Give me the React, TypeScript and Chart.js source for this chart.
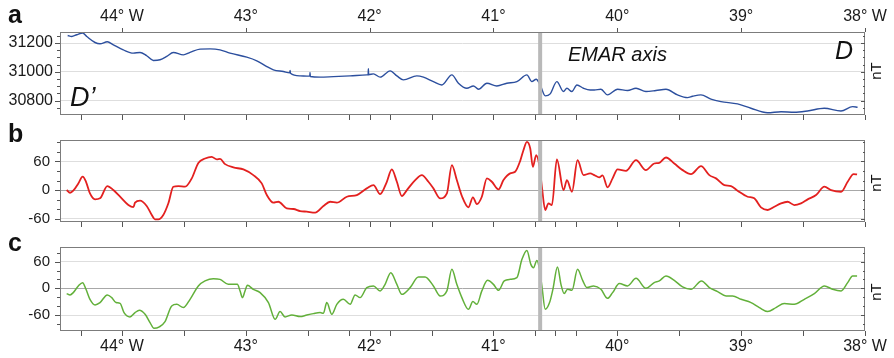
import React, { useEffect, useRef } from "react";
import { Chart, registerables } from "chart.js";
Chart.register(...registerables);

// ---- axis definitions ----
const lonMin = -44.5;
const lonMax = -38;
const lonTicks = [-44, -43, -42, -41, -40, -39, -38];
const lonMinorTicks = [-44.333, -43.5, -42.5, -42.167, -41.833, -41.5, -40.667, -40.5, -40.333, -39.5, -38.5];
const emarLon = -40.623;

const aYTicks = [30800, 31000, 31200];
const aYMinor = [30750, 30850, 30900, 30950, 31050, 31100, 31150, 31250];
const bYTicks = [-60, 0, 60];
const bYMinor = [-40, -20, 20, 40, 80, 100];
const cYTicks = [-60, 0, 60];
const cYMinor = [-80, -40, -20, 20, 40, 80];

// ---- panel a : total field (nT) ----
const aLon = [
  -44.438, -44.405, -44.365, -44.317, -44.284, -44.217, -44.177, -44.118, -44.069, -43.989,
  -43.908, -43.854, -43.8, -43.746, -43.692, -43.638, -43.585, -43.504, -43.45, -43.369,
  -43.288, -43.208, -43.127, -42.992, -42.911, -42.83, -42.777, -42.696, -42.645, -42.642,
  -42.639, -42.561, -42.483, -42.481, -42.479, -42.4, -42.292, -42.158, -42.023, -42.012,
  -42.01, -42.008, -41.969, -41.915, -41.834, -41.78, -41.727, -41.619, -41.565, -41.485,
  -41.417, -41.336, -41.283, -41.215, -41.162, -41.121, -41.053, -40.973, -40.892, -40.811,
  -40.73, -40.69, -40.655, -40.623, -40.582, -40.542, -40.488, -40.435, -40.407, -40.367,
  -40.326, -40.273, -40.219, -40.186, -40.132, -40.079, -39.998, -39.917, -39.849, -39.769,
  -39.688, -39.607, -39.514, -39.433, -39.393, -39.325, -39.244, -39.163, -39.029, -38.921,
  -38.787, -38.678, -38.571, -38.464, -38.329, -38.194, -38.1, -38.06,
];
const aVal = [
  31253, 31246, 31258, 31270, 31246, 31204, 31195, 31209, 31188, 31153,
  31130, 31135, 31112, 31079, 31084, 31107, 31135, 31118, 31135, 31158,
  31160, 31153, 31130, 31102, 31077, 31037, 31014, 31002, 30993, 31010,
  30990, 30972, 30970, 30995, 30968, 30963, 30967, 30972, 30979, 30980,
  31021, 30980, 30986, 30963, 31007, 30972, 30944, 30972, 30963, 30932,
  30909, 30979, 30921, 30886, 30902, 30879, 30921, 30902, 30921, 30932,
  30979, 30932, 30949, 30909, 30833, 30847, 30932, 30863, 30886, 30863,
  30909, 30886, 30874, 30874, 30879, 30840, 30879, 30870, 30886, 30863,
  30870, 30879, 30840, 30821, 30830, 30840, 30810, 30793, 30777, 30747,
  30716, 30723, 30719, 30728, 30747, 30728, 30758, 30754,
];

// ---- panel b : anomaly (nT) ----
const bLon = [
  -44.446, -44.419, -44.393, -44.352, -44.317, -44.29, -44.258, -44.217, -44.177, -44.118,
  -44.069, -44.015, -43.948, -43.908, -43.894, -43.854, -43.8, -43.759, -43.733, -43.706,
  -43.666, -43.625, -43.585, -43.544, -43.49, -43.436, -43.383, -43.329, -43.275, -43.234,
  -43.208, -43.167, -43.1, -43.019, -42.939, -42.871, -42.83, -42.777, -42.737, -42.669,
  -42.615, -42.561, -42.507, -42.44, -42.373, -42.319, -42.265, -42.184, -42.103, -42.023,
  -41.969, -41.915, -41.861, -41.821, -41.78, -41.74, -41.699, -41.632, -41.578, -41.525,
  -41.485, -41.43, -41.376, -41.336, -41.296, -41.255, -41.202, -41.166, -41.134, -41.094,
  -41.053, -41.013, -40.959, -40.919, -40.865, -40.825, -40.784, -40.758, -40.73, -40.703,
  -40.682, -40.655, -40.628, -40.609, -40.582, -40.556, -40.528, -40.488, -40.434, -40.407,
  -40.366, -40.321, -40.273, -40.219, -40.186, -40.146, -40.119, -40.079, -40.038, -39.998,
  -39.93, -39.849, -39.769, -39.702, -39.661, -39.607, -39.54, -39.473, -39.405, -39.324,
  -39.257, -39.203, -39.136, -39.082, -39.029, -38.948, -38.894, -38.84, -38.786, -38.732,
  -38.678, -38.625, -38.571, -38.517, -38.463, -38.395, -38.328, -38.274, -38.193, -38.14,
  -38.092, -38.064,
];
const bVal = [
  0, -5.6, -1.4, 14, 28, 17.4, -7, -19.5, -17.4, 8.4,
  0, -14, -31.4, -36, -26.5, -22.3, -33.4, -52.3, -61.3, -61.3,
  -52.3, -27.8, 7, 8.4, 7, 24.5, 57, 66.3, 69.7, 64.2,
  65.4, 54.4, 47.5, 43.3, 31.4, 14, -10.5, -26.5, -24.5, -38.3,
  -39.7, -44, -45.4, -47.4, -33.4, -24.5, -26.5, -14, -10.5, 3.5,
  10.5, -8.4, 17.4, 43.3, 17.4, -12.5, 0, 20.9, 31.4, 17.4,
  3.5, -17.4, -7, 52.3, 20.9, -12.5, -36.2, -15.3, -29.3, -14,
  24.5, 17.4, 1.4, 20.9, 34.9, 38.3, 61.3, 83.6, 101, 87.2,
  48.7, 73.2, 48.7, 7, -41.8, -27.8, -31.4, 64.2, 0, 20.9,
  -3.5, 62.7, 31.4, 34.9, 31.4, 26.5, 31, 5.6, 24.5, 43.3,
  40.4, 62.7, 41.8, 55.7, 57.1, 68.3, 55.7, 41.8, 33.4, 50.2,
  31.4, 24.5, 10.5, 8.4, -1.4, -14, -17.4, -36.2, -41.8, -34.9,
  -27.8, -24.5, -31.4, -27.8, -19.5, -10.5, 7, 0, -3.5, 17.4,
  33.4, 32.8,
];

// ---- panel c : reduced anomaly (nT) ----
const cLon = [
  -44.446, -44.419, -44.393, -44.352, -44.317, -44.29, -44.258, -44.217, -44.177, -44.118,
  -44.082, -44.048, -44.015, -43.983, -43.935, -43.894, -43.859, -43.813, -43.773, -43.741,
  -43.698, -43.652, -43.598, -43.557, -43.504, -43.45, -43.383, -43.329, -43.262, -43.208,
  -43.141, -43.1, -43.068, -43.046, -43.027, -43.006, -42.987, -42.939, -42.884, -42.817,
  -42.763, -42.723, -42.683, -42.628, -42.561, -42.507, -42.454, -42.4, -42.373, -42.346,
  -42.305, -42.265, -42.212, -42.157, -42.117, -42.077, -42.023, -41.969, -41.915, -41.875,
  -41.829, -41.78, -41.74, -41.673, -41.606, -41.552, -41.485, -41.43, -41.376, -41.336,
  -41.296, -41.255, -41.202, -41.166, -41.134, -41.094, -41.048, -41.0, -40.959, -40.913,
  -40.865, -40.811, -40.77, -40.73, -40.698, -40.677, -40.649, -40.628, -40.609, -40.582,
  -40.547, -40.52, -40.483, -40.455, -40.429, -40.402, -40.366, -40.321, -40.278, -40.245,
  -40.192, -40.132, -40.079, -40.038, -39.984, -39.917, -39.849, -39.769, -39.702, -39.661,
  -39.607, -39.54, -39.473, -39.405, -39.32, -39.257, -39.19, -39.122, -39.069, -39.001,
  -38.92, -38.853, -38.786, -38.719, -38.652, -38.571, -38.49, -38.409, -38.328, -38.261,
  -38.193, -38.14, -38.1, -38.064,
];
const cVal = [
  -11.9, -14.8, -9.7, 5.4, 12.8, -2.2, -24.7, -37.3, -32.1, -14.8,
  -20.9, -32.1, -33.7, -54.6, -64.3, -54.6, -49.4, -58.4, -77.1, -89.9,
  -86.7, -74.8, -39.6, -36, -43.4, -24.7, 5.4, 16.6, 21.8, 20.2,
  9, 9, 9, -5.8, -20.9, -5.8, 6.7, -2.2, -9.7, -32.1,
  -69.7, -52.4, -64.3, -59.8, -63.6, -60, -56.9, -54.6, -56, -32.1,
  -58.4, -36, -24.7, -36, -14.8, -20.9, 1.6, 5.4, -5.8, 9,
  35.3, 9, -13.5, 1.6, 25.6, 25.6, 5.4, -17.1, -5.8, 42.7,
  9, -20.9, -47.2, -29.9, -36, -5.8, 18, 9, -4.5, 16.6,
  20.2, 24, 65.2, 85.4, 53.9, 46.5, 62.9, 42.7, 5.4, -47.2,
  -32.1, -2.2, 48.1, 9, -11.9, -2.2, -4.5, 42.7, 16.6, 1.6,
  5.4, -2.2, -22.5, -9.7, 10.6, 5.4, 22.5, 0, 12.8, 16.6,
  27.9, 18, 3.1, -2.2, 16.6, 1.6, -7.4, -17.1, -17.1, -24.7,
  -32.1, -43.4, -52.4, -43.4, -34.4, -36, -24.7, -11.9, 5.4, -2.2,
  -5.8, 12.8, 27.9, 27.9,
];

const FONT = '"Liberation Sans", Arial, Helvetica, sans-serif';

type Txt = { t: string; x: number; y: number; font: string; align?: CanvasTextAlign };
type PanelCfg = {
  lon: number[];
  val: number[];
  color: string;
  width: number;
  yMin: number;
  yMax: number;
  yTicks: number[];
  yMinor: number[];
  yFont: number;
  yPad: number;
  xPos: "top" | "bottom" | "none";
  padTop: number;
  padBottom: number;
  xHeight: number;
  topTicks: boolean;
  texts: Txt[];
  nTy: number;
};

const lonLabel = (v: number) => {
  const d = Math.round(-v);
  return d === 44 || d === 38 ? `${d}° W` : `${d}°`;
};

function makePlugin(p: PanelCfg) {
  return {
    id: "deco",
    afterDraw(chart: any) {
      const { ctx, chartArea: ca, scales } = chart;
      const xs = scales.x;
      const ys = scales.y;
      ctx.save();
      // frame
      ctx.strokeStyle = "#7c7c7c";
      ctx.lineWidth = 1;
      ctx.strokeRect(ca.left + 0.5, ca.top + 0.5, ca.right - ca.left - 1, ca.bottom - ca.top - 1);
      // tick marks
      ctx.strokeStyle = "#555";
      ctx.beginPath();
      for (const v of [...lonTicks, ...lonMinorTicks]) {
        const px = Math.round(xs.getPixelForValue(v)) + 0.5;
        ctx.moveTo(px, ca.bottom);
        ctx.lineTo(px, ca.bottom + 5);
      }
      if (p.topTicks) {
        for (const v of lonTicks) {
          const px = Math.round(xs.getPixelForValue(v)) + 0.5;
          ctx.moveTo(px, ca.top);
          ctx.lineTo(px, ca.top - 4);
        }
      }
      for (const v of p.yTicks) {
        const py = Math.round(ys.getPixelForValue(v)) + 0.5;
        ctx.moveTo(ca.left, py);
        ctx.lineTo(ca.left - 5, py);
        ctx.moveTo(ca.right, py);
        ctx.lineTo(ca.right - 4, py);
      }
      for (const v of p.yMinor) {
        const py = Math.round(ys.getPixelForValue(v)) + 0.5;
        ctx.moveTo(ca.left, py);
        ctx.lineTo(ca.left - 3, py);
        ctx.moveTo(ca.right, py);
        ctx.lineTo(ca.right - 2, py);
      }
      ctx.stroke();
      // texts
      ctx.fillStyle = "#111";
      ctx.textBaseline = "alphabetic";
      for (const t of p.texts) {
        ctx.font = t.font;
        ctx.textAlign = t.align || "left";
        ctx.fillText(t.t, t.x, t.y);
      }
      // nT unit, rotated
      ctx.save();
      ctx.translate(877, p.nTy);
      ctx.rotate(-Math.PI / 2);
      ctx.font = `15px ${FONT}`;
      ctx.textAlign = "center";
      ctx.textBaseline = "middle";
      ctx.fillText("nT", 0, 0);
      ctx.restore();
      ctx.restore();
    },
  };
}

function buildChart(canvas: HTMLCanvasElement, p: PanelCfg) {
  const pts = p.lon.map((x, i) => ({ x, y: p.val[i] }));
  const emar = [
    { x: emarLon, y: p.yMin },
    { x: emarLon, y: p.yMax },
  ];
  return new Chart(canvas, {
    type: "line",
    data: {
      datasets: [
        {
          data: emar,
          borderColor: "#b9b9b9",
          borderWidth: 4,
          pointRadius: 0,
          order: 0,
        },
        {
          data: pts,
          borderColor: p.color,
          borderWidth: p.width,
          pointRadius: 0,
          cubicInterpolationMode: "monotone",
          order: 1,
        },
      ],
    },
    options: {
      animation: false,
      responsive: false,
      events: [],
      layout: { padding: { left: 0, right: 29, top: p.padTop, bottom: p.padBottom } },
      plugins: { legend: { display: false }, tooltip: { enabled: false } },
      scales: {
        x: {
          type: "linear",
          min: lonMin,
          max: lonMax,
          display: p.xPos !== "none",
          position: p.xPos === "top" ? "top" : "bottom",
          afterBuildTicks: (s: any) => {
            s.ticks = lonTicks.map((v) => ({ value: v }));
          },
          afterFit: (s: any) => {
            s.height = p.xHeight;
          },
          grid: { display: false, drawTicks: false },
          border: { display: false },
          ticks: {
            autoSkip: false,
            maxRotation: 0,
            padding: 6,
            color: "#1a1a1a",
            font: { family: FONT, size: 16 },
            callback: (v: any) => lonLabel(Number(v)),
          },
        },
        y: {
          type: "linear",
          min: p.yMin,
          max: p.yMax,
          afterBuildTicks: (s: any) => {
            s.ticks = p.yTicks.map((v) => ({ value: v }));
          },
          afterFit: (s: any) => {
            s.width = 60;
          },
          grid: {
            drawTicks: false,
            color: (c: any) => (c.tick && c.tick.value === 0 ? "#a8a8a8" : "#dedede"),
            lineWidth: 1,
          },
          border: { display: false },
          ticks: {
            padding: p.yPad,
            color: "#1a1a1a",
            font: { family: FONT, size: p.yFont },
            callback: (v: any) => String(v),
          },
        },
      },
    },
    plugins: [makePlugin(p)],
  } as any);
}

const panels: PanelCfg[] = [
  {
    lon: aLon, val: aVal, color: "#2c4f9e", width: 1.4,
    yMin: 30700, yMax: 31277, yTicks: aYTicks, yMinor: aYMinor, yFont: 16, yPad: 7,
    xPos: "top", padTop: 0, padBottom: 243, xHeight: 32, topTicks: true,
    texts: [
      { t: "a", x: 8, y: 23, font: `bold 25px ${FONT}` },
      { t: "D’", x: 70, y: 106, font: `italic 27px ${FONT}` },
      { t: "D", x: 853, y: 59, font: `italic 25px ${FONT}`, align: "right" },
      { t: "EMAR axis", x: 568, y: 61, font: `italic 20px ${FONT}` },
    ],
    nTy: 71,
  },
  {
    lon: bLon, val: bVal, color: "#e3201f", width: 1.8,
    yMin: -67, yMax: 105, yTicks: bYTicks, yMinor: bYMinor, yFont: 15, yPad: 10,
    xPos: "none", padTop: 140, padBottom: 136, xHeight: 0, topTicks: false,
    texts: [{ t: "b", x: 8, y: 141.5, font: `bold 25px ${FONT}` }],
    nTy: 183,
  },
  {
    lon: cLon, val: cVal, color: "#62b03a", width: 1.5,
    yMin: -96, yMax: 93, yTicks: cYTicks, yMinor: cYMinor, yFont: 15, yPad: 10,
    xPos: "bottom", padTop: 247, padBottom: 0, xHeight: 27, topTicks: false,
    texts: [{ t: "c", x: 8, y: 251, font: `bold 25px ${FONT}` }],
    nTy: 292,
  },
];

export default function App() {
  const r0 = useRef<HTMLCanvasElement>(null);
  const r1 = useRef<HTMLCanvasElement>(null);
  const r2 = useRef<HTMLCanvasElement>(null);

  useEffect(() => {
    const refs = [r0, r1, r2];
    const charts = refs.map((r, i) => buildChart(r.current as HTMLCanvasElement, panels[i]));
    return () => charts.forEach((c) => c.destroy());
  }, []);

  const cs: React.CSSProperties = { position: "absolute", left: 0, top: 0 };
  return (
    <div style={{ position: "absolute", left: 0, top: 0, width: 894, height: 358, background: "#fff" }}>
      <canvas ref={r0} width={894} height={358} style={cs} />
      <canvas ref={r1} width={894} height={358} style={cs} />
      <canvas ref={r2} width={894} height={358} style={cs} />
    </div>
  );
}
